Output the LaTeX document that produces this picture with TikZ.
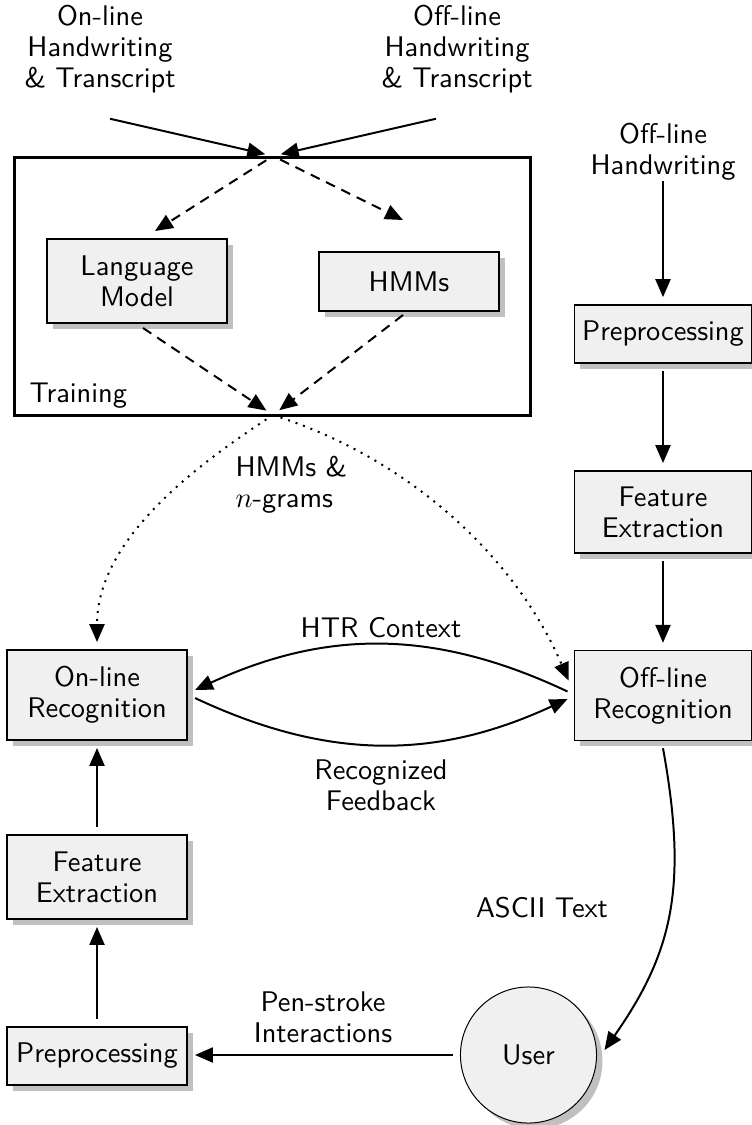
\documentclass[tikz,border=0pt]{standalone}
\usetikzlibrary{arrows.meta,shadows,calc}
\definecolor{boxfill}{HTML}{F0F0F0}
\definecolor{shadowgray}{HTML}{C0C0C0}
\begin{document}
\begin{tikzpicture}[x=0.352pt,y=0.352pt,
  font=\fontsize{10}{11}\selectfont\sffamily,
  boxshadow/.style={drop shadow={shadow xshift=2.1pt,shadow yshift=-2.1pt,fill=shadowgray,opacity=1}},
  box/.style={draw,line width=0.4pt,fill=boxfill,align=center,inner sep=0pt,outer sep=2.8pt,boxshadow},
  lbl/.style={align=center,inner sep=0pt},
  arr/.style={line width=0.7pt,-{Triangle[length=6.3pt,width=5.3pt]}},
  dsh/.style={arr,dash pattern=on 3.5pt off 2.5pt},
  dotl/.style={arr,dash pattern=on 0.7pt off 2.1pt}]
\useasboundingbox (0,0) rectangle (752,-1125);

% training frame
\node[draw,line width=1.06pt,minimum width=181.3pt,minimum height=90.5pt,inner sep=0pt] (train) at (272.5,-286.5) {};
\node[lbl,anchor=base west] (trainlbl) at (29,-402) {Training};

% boxes
\node[box,minimum width=63.4pt,minimum height=29.6pt] (lm) at (137,-281) {Language\\Model};
\node[box,minimum width=63.4pt,minimum height=20.8pt] (hmm) at (409,-281.5) {HMMs};
\node[box,minimum width=62.3pt,minimum height=20.4pt] (pre2) at (663,-334) {Preprocessing};
\node[box,minimum width=62.3pt,minimum height=28.9pt] (fe2) at (663,-512) {Feature\\Extraction};
\node[box,minimum width=62.3pt,minimum height=31.5pt] (offrec) at (663,-695.5) {Off-line\\Recognition};
\node[box,minimum width=63.4pt,minimum height=31.7pt] (onrec) at (97,-695) {On-line\\Recognition};
\node[box,minimum width=63.4pt,minimum height=29.6pt] (fe1) at (97,-877) {Feature\\Extraction};
\node[box,minimum width=63.4pt,minimum height=20.4pt] (pre1) at (97,-1056) {Preprocessing};
\node[circle,draw,line width=0.35pt,fill=boxfill,minimum size=47.9pt,inner sep=0pt,outer sep=2.8pt,boxshadow] (user) at (528.5,-1055) {User};

% free labels
\node[lbl] (onhw) at (100,-49) {On-line\\Handwriting\\\& Transcript};
\node[lbl] (offhwt) at (457,-49) {Off-line\\Handwriting\\\& Transcript};
\node[lbl] (offhw) at (663,-152) {Off-line\\Handwriting};
\node[lbl,align=left,anchor=west] (hng) at (235,-485) {HMMs \&\\$n$-grams};
\node[lbl] (htr) at (381,-628) {HTR Context};
\node[lbl] (recfb) at (381,-785) {Recognized\\Feedback};
\node[lbl] (ascii) at (542,-908) {ASCII Text};
\node[lbl] (pen) at (323,-1017) {Pen-stroke\\Interactions};

\coordinate (jtop) at (273,-156);
\coordinate (jbot) at (273,-415);

% inputs to training
\draw[arr,shorten >=2.8pt] ($(onhw.south)+(10,-25)$) -- (jtop);
\draw[arr,shorten >=2.8pt] ($(offhwt.south)+(-21,-25)$) -- (jtop);
\draw[dsh,shorten <=2.8pt] (jtop) -- ($(lm.north)+(18,0)$);
\draw[dsh,shorten <=2.8pt] (jtop) -- ($(hmm.north)+(-6,24)$);
\draw[dsh,shorten >=2.8pt] ($(lm.south)+(6,3)$) -- (jbot);
\draw[dsh,shorten >=2.8pt] ($(hmm.south)+(-6,4)$) -- (jbot);

% trained models to recognizers
\draw[dotl,shorten <=2.8pt] (jbot) .. controls (189.5,-470) and (97,-542) .. (onrec.north);
\draw[dotl,shorten <=2.8pt] (jbot) .. controls (409,-460) and (515,-556) .. ($(offrec.west)+(2,15)$);

% off-line pipeline
\draw[arr] (offhw.south -| pre2.north) -- (pre2.north);
\draw[arr] (pre2) -- (fe2);
\draw[arr] (fe2) -- (offrec);

% interaction between recognizers
\draw[arr] ($(offrec.west)+(1,4)$) to[bend right=25] ($(onrec.east)+(0,5)$);
\draw[arr] ($(onrec.east)+(0,-3)$) to[bend right=25] ($(offrec.west)+(1,-3.5)$);

% user loop
\draw[arr] (offrec.south) .. controls ($(offrec.south)+(25,-138)$) and ($(user.east)+(68.5,103)$) .. ($(user.east)+(0,5)$);
\draw[arr] (user.west) -- (user.west -| pre1.east);
\draw[arr] (pre1) -- (fe1);
\draw[arr] (fe1) -- (onrec);
\end{tikzpicture}
\end{document}
